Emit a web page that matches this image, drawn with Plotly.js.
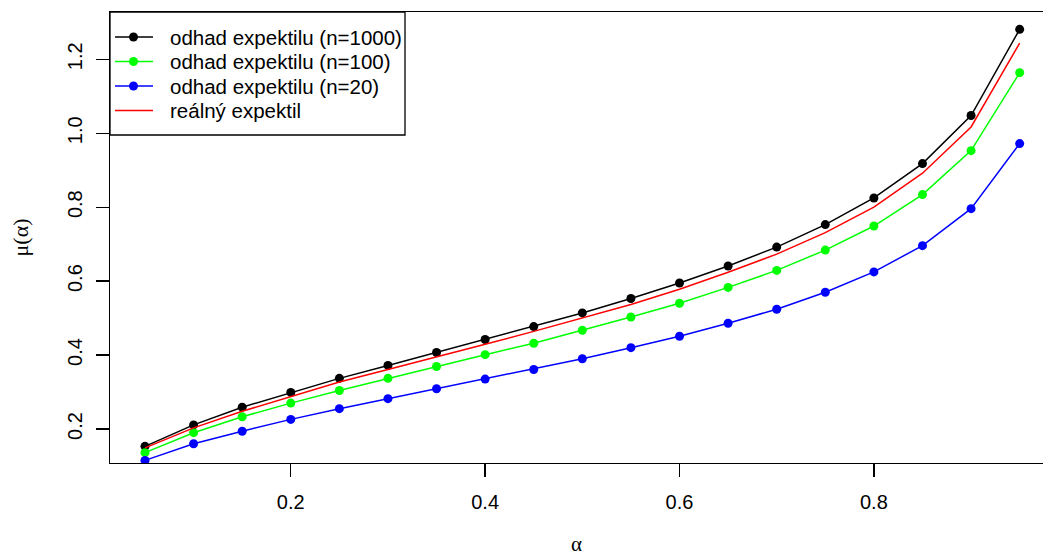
<!DOCTYPE html>
<html>
<head>
<meta charset="utf-8">
<script src="https://cdn.plot.ly/plotly-3.0.1.min.js"></script>
<style>html,body{margin:0;padding:0;background:#fff;}#chart{width:1043px;height:556px;}</style>
</head>
<body>
<div id="chart"></div>
<script>
var alpha = [0.05,0.10,0.15,0.20,0.25,0.30,0.35,0.40,0.45,0.50,0.55,0.60,0.65,0.70,0.75,0.80,0.85,0.90,0.95];
var est1000 = [0.153,0.211,0.259,0.299,0.337,0.372,0.407,0.442,0.477,0.514,0.553,0.595,0.641,0.692,0.753,0.825,0.918,1.048,1.281];
var est100  = [0.136,0.190,0.233,0.270,0.304,0.337,0.369,0.401,0.432,0.467,0.503,0.540,0.583,0.629,0.684,0.749,0.834,0.953,1.164];
var est20   = [0.115,0.160,0.194,0.226,0.255,0.282,0.309,0.335,0.361,0.390,0.420,0.451,0.486,0.524,0.570,0.625,0.696,0.796,0.972];
var real    = [0.149,0.203,0.248,0.288,0.327,0.361,0.394,0.429,0.464,0.501,0.537,0.578,0.624,0.673,0.731,0.800,0.892,1.017,1.244];
var names = ["odhad expektilu (n=1000)","odhad expektilu (n=100)","odhad expektilu (n=20)","reálný expektil"];
var colors = ['#000000','#00ff00','#0000ff','#ff0000'];
var hasMarker = [true,true,true,false];
var xTicks = [0.2,0.4,0.6,0.8];
var yTicks = [0.2,0.4,0.6,0.8,1.0,1.2];

var series = [est1000, est100, est20, real];
var data = series.map(function(y, i){
  return {x: alpha, y: y, name: names[i], type: 'scatter',
    mode: hasMarker[i] ? 'lines+markers' : 'lines',
    line: {color: colors[i], width: 1.5},
    marker: {color: colors[i], size: 9}};
});

// Legend box drawn R-style (paper coordinates of the plot area)
var W = 933, H = 451;
function px(v){ return (v - 110) / W; }
function py(v){ return (463 - v) / H; }
var legRowY = [37, 61.5, 86, 110.5];
var shapes = [{type: 'rect', xref: 'paper', yref: 'paper', x0: 0, x1: px(405), y0: py(135), y1: 1,
  line: {color: '#000', width: 1.3}, fillcolor: '#fff', layer: 'above'}];
var annotations = [];
names.forEach(function(n, i){
  var yy = py(legRowY[i]);
  shapes.push({type: 'line', xref: 'paper', yref: 'paper', x0: px(115), x1: px(153), y0: yy, y1: yy,
    line: {color: colors[i], width: 1.5}, layer: 'above'});
  if (hasMarker[i]) {
    shapes.push({type: 'circle', xref: 'paper', yref: 'paper', xsizemode: 'pixel', ysizemode: 'pixel',
      xanchor: px(133.5), yanchor: yy, x0: -4.5, x1: 4.5, y0: -4.5, y1: 4.5,
      line: {color: colors[i], width: 0}, fillcolor: colors[i], layer: 'above'});
  }
  annotations.push({xref: 'paper', yref: 'paper', x: px(169), y: yy, xanchor: 'left', yanchor: 'middle',
    text: n, showarrow: false, borderpad: 0,
    font: {family: 'Liberation Sans, Arial, sans-serif', size: 20.5, color: '#000'}});
});

var font = {family: 'Liberation Sans, Arial, sans-serif', size: 20, color: '#000'};
var layout = {
  width: 1043, height: 556,
  margin: {l: 110, r: 0, t: 12, b: 93},
  paper_bgcolor: '#fff', plot_bgcolor: '#fff',
  font: font,
  showlegend: false,
  shapes: shapes,
  annotations: annotations,
  xaxis: {range: [0.014, 0.974], tickvals: xTicks, ticktext: xTicks.map(function(v){return v.toFixed(1);}),
    ticks: 'outside', ticklen: 13, tickwidth: 1.3, tickcolor: '#000',
    showgrid: false, zeroline: false, showline: true, mirror: true, linecolor: '#000', linewidth: 1.3,
    ticklabelstandoff: 8,
    title: {text: 'α', font: {family: 'Liberation Serif, serif', size: 21, color: '#000'}, standoff: 39}},
  yaxis: {range: [0.108, 1.328], tickvals: yTicks, ticktext: yTicks.map(function(v){return v.toFixed(1);}),
    ticks: 'outside', ticklen: 13, tickwidth: 1.3, tickcolor: '#000', tickangle: -90,
    showgrid: false, zeroline: false, showline: true, mirror: false, linecolor: '#000', linewidth: 1.3,
    ticklabelstandoff: 6,
    title: {text: 'μ(α)', font: {family: 'Liberation Serif, serif', size: 22, color: '#000'}, standoff: 29}}
};
Plotly.newPlot('chart', data, layout, {displayModeBar: false, staticPlot: true});
</script>
</body>
</html>
